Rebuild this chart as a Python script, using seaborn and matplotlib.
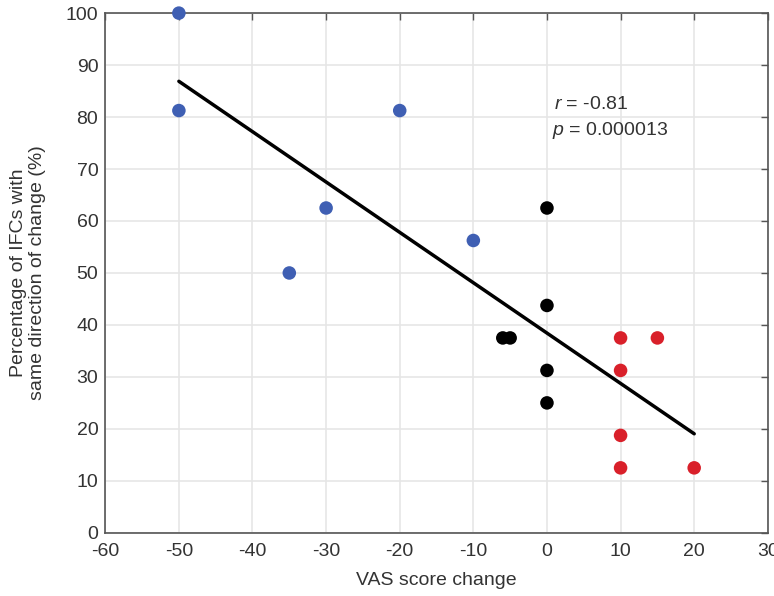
import numpy as np
import pandas as pd
import matplotlib
matplotlib.use("Agg")
import matplotlib.pyplot as plt
import seaborn as sns

# VAS score change vs percentage of IFCs with same direction of change
blue_x = [-50, -50, -20, -30, -35, -10]
blue_y = [100, 81.25, 81.25, 62.5, 50, 56.25]
black_x = [0, 0, -6, -5, 0, 0]
black_y = [62.5, 43.75, 37.5, 37.5, 31.25, 25]
red_x = [10, 15, 10, 10, 10, 20]
red_y = [37.5, 37.5, 31.25, 18.75, 12.5, 12.5]

groups = ["improved"] * len(blue_x) + ["unchanged"] * len(black_x) + ["worse"] * len(red_x)
df = pd.DataFrame({
    "vas": blue_x + black_x + red_x,
    "pct": blue_y + black_y + red_y,
    "group": groups,
})

sns.set_style("whitegrid")
plt.rcParams["font.family"] = ["Liberation Sans", "DejaVu Sans"]
plt.rcParams["mathtext.fontset"] = "custom"
plt.rcParams["mathtext.it"] = "Liberation Sans:italic"
plt.rcParams["mathtext.rm"] = "Liberation Sans"
plt.rcParams["axes.unicode_minus"] = False

fig = plt.figure(figsize=(7.74, 5.96), dpi=100)
ax = fig.add_axes([0.136, 0.106, 0.856, 0.872])

palette = {"improved": "#3f5fb3", "unchanged": "#000000", "worse": "#d9202a"}
sns.regplot(data=df, x="vas", y="pct", ci=None, scatter=False, ax=ax,
            line_kws={"color": "black", "lw": 2.5})
sns.scatterplot(data=df, x="vas", y="pct", hue="group", palette=palette,
                s=95, edgecolor="none", legend=False, ax=ax, zorder=3, clip_on=False)

ax.set_xlim(-60, 30)
ax.set_ylim(0, 100)
ax.set_xticks(range(-60, 31, 10))
ax.set_yticks(range(0, 101, 10))
ax.grid(True, color="#e6e6e6", lw=1.2)
for sp in ax.spines.values():
    sp.set_color("#555555")
    sp.set_linewidth(1.2)
ax.tick_params(direction="in", length=5, width=1, colors="#555555",
               labelcolor="#333333", top=True, right=True, labelsize=14)
ax.tick_params(axis="x", pad=7)
ax.tick_params(axis="y", pad=5)

ax.set_xlabel("VAS score change", fontsize=14, color="#333333", labelpad=9)
ax.set_ylabel("Percentage of IFCs with\nsame direction of change (%)",
              fontsize=14, color="#333333", labelpad=14)

ax.text(1.0, 82.5, r"$r$ = -0.81", fontsize=14, color="#333333", va="center")
ax.text(0.7, 77.5, r"$p$ = 0.000013", fontsize=14, color="#333333", va="center")

fig.savefig("out.png", dpi=100)
